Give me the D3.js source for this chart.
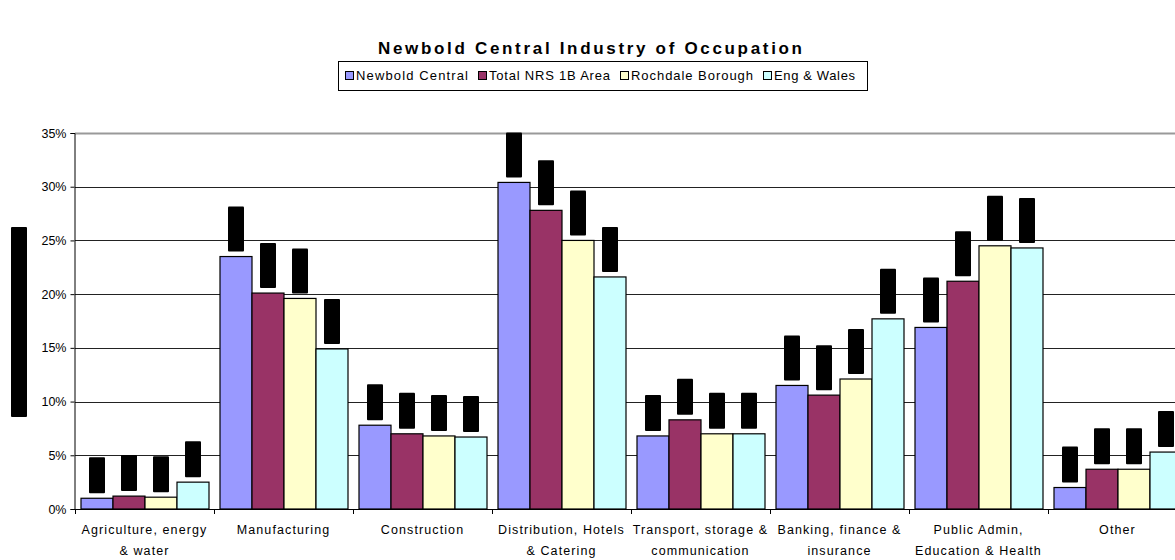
<!DOCTYPE html>
<html><head><meta charset="utf-8">
<script src="https://cdn.jsdelivr.net/npm/d3@7/dist/d3.min.js"></script>
<style>body{margin:0;background:#fff}svg{display:block;font-family:"Liberation Sans",Arial,sans-serif}</style>
</head><body><svg id="c" width="1175" height="560"></svg>
<script>
const categories = [
  ["Agriculture, energy","& water"],
  ["Manufacturing"],
  ["Construction"],
  ["Distribution, Hotels","& Catering"],
  ["Transport, storage &","communication"],
  ["Banking, finance &","insurance"],
  ["Public Admin,","Education & Health"],
  ["Other"]
];
const seriesNames = ["Newbold Central","Total NRS 1B Area","Rochdale Borough","Eng & Wales"];
const newboldCentral = [1.0, 23.5, 7.8, 30.4, 6.8, 11.5, 16.9, 2.0];
const totalNRS1B     = [1.2, 20.1, 7.0, 27.8, 8.3, 10.6, 21.2, 3.7];
const rochdale       = [1.1, 19.6, 6.8, 25.0, 7.0, 12.1, 24.5, 3.7];
const engWales       = [2.5, 14.9, 6.7, 21.6, 7.0, 17.7, 24.3, 5.3];
const yTicks = [0,5,10,15,20,25,30,35];
const colors = ["#9999FF","#993366","#FFFFCC","#CCFFFF"];

const series = [newboldCentral,totalNRS1B,rochdale,engWales];
const svg = d3.select("#c");
const plotLeft = 75, catW = 139, plotTop = 133, plotBottom = 509;
const x0 = d3.scaleBand().domain(d3.range(categories.length)).range([plotLeft, plotLeft + catW*categories.length]);
const x1 = d3.scaleBand().domain(d3.range(series.length)).range([5.5, catW-5.5]);
const y = d3.scaleLinear().domain([0,35]).range([plotBottom, plotTop]);
const plotRight = plotLeft + catW*categories.length;

// title
svg.append("text").attr("x",590).attr("y",54).attr("text-anchor","middle")
  .attr("font-size",17).attr("font-weight","bold").attr("textLength",424).attr("lengthAdjust","spacing")
  .text("Newbold Central Industry of Occupation");

// legend
const lg = svg.append("g");
lg.append("rect").attr("x",338.5).attr("y",61.5).attr("width",529).attr("height",29).attr("fill","#fff").attr("stroke","#000");
const legX = [345,478,620,763], legW = [112,121,122,81];
seriesNames.forEach((n,i)=>{
  lg.append("rect").attr("x",legX[i]+0.5).attr("y",71.5).attr("width",8).attr("height",8).attr("fill",colors[i]).attr("stroke","#000");
  lg.append("text").attr("x",legX[i]+11).attr("y",80).attr("font-size",13)
    .attr("textLength",legW[i]).attr("lengthAdjust","spacing").text(n);
});

// gridlines
svg.append("g").selectAll("line").data(yTicks.filter(t=>t>0)).join("line")
  .attr("x1",plotLeft).attr("x2",plotRight).attr("y1",d=>Math.round(y(d))+0.5).attr("y2",d=>Math.round(y(d))+0.5)
  .attr("stroke",d=>d===35?"#999":"#222").attr("stroke-width",d=>d===35?2:1);

// y axis
const ya = svg.append("g").attr("transform",`translate(${plotLeft-0.5},0)`)
  .call(d3.axisLeft(y).tickValues(yTicks).tickFormat(d=>d+"%").tickSize(4).tickPadding(4));
ya.select(".domain").attr("stroke","#000");
ya.selectAll(".tick line").attr("stroke","#000");
ya.selectAll("text").attr("font-size",12.5).attr("fill","#000").attr("font-family","Liberation Sans, Arial, sans-serif");

// bars
const bars = svg.append("g");
categories.forEach((c,ci)=>{
  series.forEach((s,si)=>{
    const bx = x0(ci)+x1(si), bw = x1.bandwidth(), by = y(s[ci]);
    bars.append("rect").attr("x",bx+0.5).attr("y",by).attr("width",bw).attr("height",plotBottom-by)
      .attr("fill",colors[si]).attr("stroke","#000").attr("stroke-width",1.2);
    // redacted (rotated) data labels
    const lab = s[ci].toFixed(1)+"%";
    const h = lab.length*9;
    bars.append("rect").attr("x",bx+bw/2-7.5).attr("y",by-5-h).attr("width",16).attr("height",h)
      .attr("fill","#000").attr("rx",1);
  });
});

// x axis
svg.append("line").attr("x1",plotLeft).attr("x2",plotRight).attr("y1",plotBottom+0.5).attr("y2",plotBottom+0.5).attr("stroke","#000");
svg.append("g").selectAll("line").data(d3.range(categories.length+1)).join("line")
  .attr("x1",d=>plotLeft+d*catW+0.5).attr("x2",d=>plotLeft+d*catW+0.5).attr("y1",plotBottom).attr("y2",plotBottom+5).attr("stroke","#000");
const xl = svg.append("g");
categories.forEach((c,ci)=>{
  c.forEach((line,li)=>{
    xl.append("text").attr("x",x0(ci)+catW/2).attr("y",534+li*21).attr("text-anchor","middle")
      .attr("font-size",12.5).attr("letter-spacing",1.1).text(line);
  });
});

// redacted y-axis title
svg.append("rect").attr("x",11).attr("y",227).attr("width",16).attr("height",190).attr("fill","#000").attr("rx",1);
</script></body></html>
